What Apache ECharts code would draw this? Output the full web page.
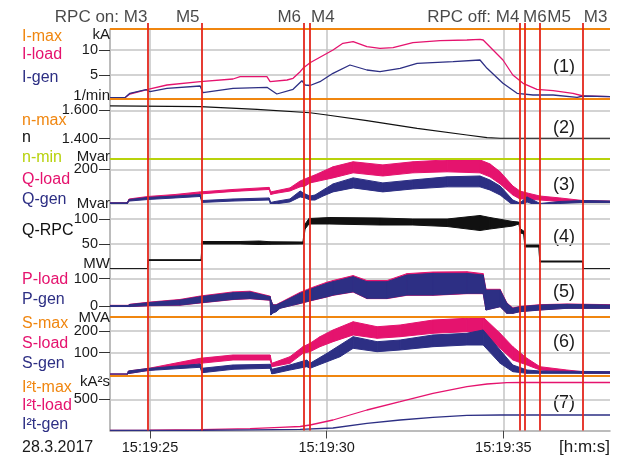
<!DOCTYPE html>
<html><head><meta charset="utf-8">
<script src="https://cdn.jsdelivr.net/npm/echarts@6/dist/echarts.min.js"></script>
<style>html,body{margin:0;padding:0;background:#fff}#c{width:617px;height:456px}</style>
</head><body><div id="c"></div>
<script>
// ---------------- DATA ----------------
// time in seconds after 15:19:00
const X_MIN = 23.868, X_MAX = 38.02;
const TIME_TICKS = [25, 30, 35];
const TIME_LABELS = ['15:19:25', '15:19:30', '15:19:35'];

const MARKER_TIMES = [24.94, 26.46, 29.34, 29.53, 35.47, 35.62, 36.02, 37.25];
const TOP_LABEL_TEXTS = ['RPC on: M3', 'M5', 'M6', 'M4', 'RPC off: M4', 'M6', 'M5', 'M3'];

const I_TICKS = [5, 10], I_TICK_LABELS = ['5', '10'];
const N_TICKS = [1400, 1600], N_TICK_LABELS = ['1.400', '1.600'];
const Q_TICKS = [200], Q_TICK_LABELS = ['200'];
const QRPC_TICKS = [50, 100], QRPC_TICK_LABELS = ['50', '100'];
const P_TICKS = [0, 100], P_TICK_LABELS = ['0', '100'];
const S_TICKS = [100, 200], S_TICK_LABELS = ['100', '200'];
const I2T_TICKS = [500], I2T_TICK_LABELS = ['500'];

const I_GRIDLINES = [5, 10], N_GRIDLINES = [1400, 1600], Q_GRIDLINES = [0, 200],
      QRPC_GRIDLINES = [0, 50, 100], P_GRIDLINES = [0, 100], S_GRIDLINES = [100, 200], I2T_GRIDLINES = [500];

const I_MAX = 14.2, N_MAX = 1680, N_MIN = 1260, S_MAX = 265, I2T_MAX = 880;

const I_LOAD = [[23.87,0.46],[24.29,0.46],[24.43,1.2],[24.94,2.14],[25.48,3.0],[26.42,3.66],[27.35,4.2],[27.55,4.66],[28.31,4.66],[28.40,3.66],[28.88,4.0],[29.05,4.34],[29.25,5.66],[29.33,6.34],[29.53,7.46],[30.18,10.0],[30.46,11.34],[30.75,11.66],[31.14,10.66],[31.51,10.34],[31.88,10.46],[32.44,11.46],[33.21,11.86],[33.97,12.0],[34.34,12.14],[34.43,12.0],[34.71,10.0],[34.99,8.0],[35.27,5.0],[35.56,3.34],[35.95,2.14],[36.41,1.86],[36.97,1.34],[37.26,0.8],[38.02,0.66]];
const I_GEN = [[23.87,0.46],[24.29,0.46],[24.43,1.34],[24.89,2.06],[25.0,1.66],[25.48,2.34],[26.42,2.8],[26.50,1.46],[27.35,2.34],[28.31,2.54],[28.59,1.2],[29.05,2.14],[29.30,3.86],[29.39,3.0],[29.53,2.9],[29.81,3.66],[30.18,5.34],[30.66,7.0],[31.14,6.0],[31.51,5.66],[32.08,6.34],[32.56,7.34],[33.58,7.66],[34.34,8.0],[34.54,6.34],[34.99,3.34],[35.39,1.34],[35.84,1.0],[36.41,1.0],[37.09,0.54],[37.26,0.8],[38.02,0.66]];

const N_SPEED = [[23.87,1631],[26.42,1626],[28.03,1607],[29.53,1583],[30.01,1567],[31.14,1527],[32.56,1473],[33.97,1426],[34.54,1407],[34.91,1403],[38.02,1403]];

// bands: [t, low, high]
const Q_LOAD = [[23.87,0,7],[24.35,0,7],[24.41,20,29],[24.94,32,43.5],[25.71,43.5,55],[26.42,58,70],[27.35,72.5,84],[28.37,84,96],[28.42,55,70],[28.54,61,75],[28.96,75,93],[29.25,99,133],[29.39,104,145],[29.53,122,157],[29.67,128,168],[30.18,151,215],[30.75,180,244],[31.59,162,226],[32.44,180,244],[33.41,186,255],[34.34,180,255],[34.62,157,232],[34.91,116,186],[35.27,52,104],[35.47,29,75],[35.67,29,64],[36.04,23,46],[36.60,14.5,35],[37.25,9,20],[38.02,9,17]];
const Q_GEN = [[23.87,0,7],[24.35,0,7],[24.41,17,26],[24.94,26,38],[25.71,35,46],[26.42,43.5,55],[26.47,9,20],[27.35,17,29],[28.37,23,35],[28.42,-6,9],[28.54,0,14.5],[28.96,12,29],[29.25,41,75],[29.39,35,58],[29.53,23,46],[29.67,23,52],[29.90,46,81],[30.18,70,116],[30.75,93,151],[31.59,70,122],[32.44,87,139],[33.41,99,157],[34.34,99,162],[34.62,81,139],[34.91,52,104],[35.27,-6,23],[35.47,-17,6],[35.67,12,41],[36.04,-14.5,3],[36.60,3,14.5],[37.25,9,20],[38.02,9,17]];

const Q_RPC = [[23.87,0,0.6],[24.93,0,0.6],[24.95,17,18.6],[26.45,17,18.6],[26.47,50,55],[27.55,50,55],[28.10,49,56],[28.40,49.5,54.5],[29.33,50,54],[29.39,80,90],[29.50,90,101],[30.09,90,103],[31.51,88,102],[32.44,88,100],[33.41,85,100],[34.34,77,107],[34.62,80,103],[35.27,86,95],[35.44,90,94],[35.49,72,80],[35.58,70,76],[35.61,44,48],[36.01,44,48],[36.03,14,16],[37.24,14,16],[37.26,0,0.6],[38.02,0,0.6]];

const P_LOAD = [[23.87,-1.8,2.5],[24.38,-1.8,2.5],[24.43,-2,6.5],[25.0,1,14.5],[25.85,3,24],[26.42,11,36.5],[27.35,23.5,51.5],[27.83,26.5,54],[28.40,21,36],[28.42,-30,23],[28.48,-24,5],[28.57,-19.5,5],[28.68,-7.5,12],[29.25,9,50],[29.61,21,68.5],[30.01,33,87],[30.18,39,93],[30.75,51,111],[31.14,27,93],[31.71,27,93],[32.27,39,118],[33.01,39,124],[33.97,45,125],[34.43,45,118],[34.51,-14,61],[34.91,-2,61],[35.10,-26,11.5],[35.27,-26,-7],[35.47,-20,-1.5],[36.04,-14,5],[36.80,-8,7.5],[38.02,-8,5]];
const P_GEN = [[23.87,-1.8,1.8],[24.38,-1.8,1.8],[24.43,-1.8,5.5],[25.0,1.8,12.8],[25.85,3.6,21.9],[26.42,12,33.9],[27.35,24.4,48.5],[27.83,27.3,51],[28.40,21.9,33.9],[28.42,-32.8,21.9],[28.48,-25.5,3.6],[28.57,-20.8,3.6],[28.68,-8.4,9.8],[29.25,9.8,46.3],[29.61,21.9,64.5],[30.01,33.9,82.8],[30.18,40.1,88.6],[30.75,52.1,106.8],[31.14,28.1,88.6],[31.71,28.1,88.6],[32.27,40.1,113],[33.01,40.1,119],[33.97,46.3,119],[34.43,46.3,113],[34.51,-14.6,58.3],[34.91,-2.6,58.3],[35.10,-26.6,9.8],[35.27,-26.6,-8.4],[35.47,-20.8,-2.6],[36.04,-14.6,3.6],[36.80,-8.4,6.2],[38.02,-8.4,3.6]];

const S_LOAD = [[23.87,0,2],[24.36,0,2],[24.39,4,15.7],[24.94,18,27.2],[26.42,51.2,74.3],[27.35,66.5,89.6],[28.40,66.5,89.6],[28.45,35.5,51.2],[28.96,51.2,81.7],[29.33,97.4,127.9],[29.53,104.8,143.6],[29.81,127.9,174],[30.18,151,205],[30.75,182,243],[31.43,166.7,220],[32.08,174,228],[33.01,189.8,251],[33.97,197,259],[34.43,189.8,264],[34.91,120.5,189.8],[35.27,66.5,127.9],[35.67,43.4,74.3],[36.04,20.3,35.5],[36.80,11.1,20.3],[37.25,5,12.5],[38.02,5,12.5]];
const S_GEN = [[23.87,0,2],[24.36,0,2],[24.39,4,15.7],[24.94,18,27.2],[26.42,32.8,48],[26.47,7.8,28.2],[27.35,23.5,43.4],[28.40,28.2,46.6],[28.45,2,23.5],[28.96,20.3,43.4],[29.44,35.5,66.5],[29.53,28.2,51.2],[30.01,58.6,97.4],[30.38,81.7,135.7],[30.75,120.5,174],[31.43,104.8,151],[32.08,112.7,158.8],[33.01,127.9,182],[33.97,135.7,189.8],[34.43,135.7,205],[34.91,51.2,112.7],[35.27,12.5,43.4],[35.67,5,20.3],[36.04,5,15.7],[38.02,5,12.5]];

const I2T_LOAD = [[23.87,0],[25.0,5],[26.42,14],[27.83,30],[28.68,50],[29.25,64],[29.53,88],[30.18,168],[31.14,328],[32.08,461],[33.01,595],[33.97,701],[34.54,744],[35.10,765],[35.5,768],[38.02,768]];
const I2T_GEN = [[23.87,0],[26.42,4],[27.83,10],[29.25,19],[30.18,40],[31.14,115],[32.08,168],[33.01,211],[33.97,243],[34.91,248],[38.02,248]];

const LEGEND_TEXTS = ['I-max','I-load','I-gen','n-max','n','n-min','Q-load','Q-gen','Q-RPC','P-load','P-gen','S-max','S-load','S-gen','I²t-max','I²t-load','I²t-gen'];
const UNIT_TEXTS = ['kA','1/min','Mvar','Mvar','MW','MVA','kA²s'];
const PANEL_TEXTS = ['(1)','(2)','(3)','(4)','(5)','(6)','(7)'];
const DATE_TEXT = '28.3.2017', TIME_UNIT_TEXT = '[h:m:s]';

// ---------------- STYLE / LAYOUT ----------------
const PINK = '#e5136e', NAVY = '#2d2f84', ORANGE = '#f0860f', GREEN = '#b8d20c', RED = '#e4261c', BLACK = '#111', GRIDC = '#c4c4c4', AXISC = '#a6a6a6';
const TXT = '#1a1a1a';
const SANS = "'Liberation Sans',Arial,sans-serif";

const LAYOUT = [
  {top:29, height:71, min:0, max:14.2, ticks:I_TICKS, labels:I_TICK_LABELS, grid:I_GRIDLINES},
  {top:99, height:59.5, min:1260, max:1680, ticks:N_TICKS, labels:N_TICK_LABELS, grid:N_GRIDLINES},
  {top:158.5, height:45.5, min:0, max:263, ticks:Q_TICKS, labels:Q_TICK_LABELS, grid:Q_GRIDLINES},
  {top:204, height:65, min:0, max:130, ticks:QRPC_TICKS, labels:QRPC_TICK_LABELS, grid:QRPC_GRIDLINES},
  {top:269, height:48, min:-40, max:135, ticks:P_TICKS, labels:P_TICK_LABELS, grid:P_GRIDLINES},
  {top:317, height:57.4, min:0, max:265, ticks:S_TICKS, labels:S_TICK_LABELS, grid:S_GRIDLINES},
  {top:375.5, height:55, min:0, max:880, ticks:I2T_TICKS, labels:I2T_TICK_LABELS, grid:I2T_GRIDLINES}
];
const LEGEND_COLORS = [ORANGE,PINK,NAVY,ORANGE,BLACK,GREEN,PINK,NAVY,BLACK,PINK,NAVY,ORANGE,PINK,NAVY,ORANGE,PINK,NAVY];
const LEGEND_Y = [37,55,78,121,138,157.5,180,200,231,280,300,323.3,343.3,363.3,387.3,405.7,425];
const UNIT_Y = [34.5,95.5,157,204,264,318,381.7];
const PANEL_Y = [66.7,128,185,236.7,291.7,342.5,403];
const TOP_SIDES = ['left','left','left','right','left','right','right','right'];
const TOP_DIST = [0,1.5,1.8,0.5,0,-2.6,7.4,0.5];

const grids = LAYOUT.map(l => ({left:110, width:500, top:l.top, height:l.height, outerBoundsMode:'none'}));
grids.push({left:110, width:500, top:29, height:401.5, outerBoundsMode:'none'});
grids.push({left:110, width:500, top:23, height:407.5, outerBoundsMode:'none'});
grids.push({left:110, width:500, top:6, height:22, outerBoundsMode:'none'});

const xAxes = grids.map((g, i) => {
  const base = {type:'value', gridIndex:i, min:X_MIN, max:X_MAX, splitLine:{show:false}};
  if (i !== 6) return Object.assign(base, {show:false});
  return Object.assign(base, {
    show:true,
    axisLine:{show:true, lineStyle:{color:AXISC, width:1.5}},
    axisTick:{show:true, customValues:TIME_TICKS, length:8, lineStyle:{color:'#444', width:1}},
    axisLabel:{show:true, customValues:TIME_TICKS, margin:10, color:TXT, fontSize:14.5, fontFamily:SANS,
      formatter: v => TIME_LABELS[TIME_TICKS.indexOf(v)] || ''}
  });
});
const yAxes = grids.map((g, i) => {
  if (i >= 7) return {type:'value', gridIndex:i, min:0, max:1, show:false};
  const l = LAYOUT[i];
  return {
    type:'value', gridIndex:i, min:l.min, max:l.max,
    axisLine:{show:true, lineStyle:{color:AXISC, width:1.5}},
    axisTick:{show:true, customValues:l.ticks, length:11, lineStyle:{color:'#333', width:1}},
    axisLabel:{show:true, customValues:l.ticks, margin:12, color:TXT, fontSize:14.5, fontFamily:SANS,
      formatter: v => { const k = l.ticks.indexOf(v); return k >= 0 ? l.labels[k] : ''; }},
    splitLine:{show:false}
  };
});

const series = [];
function helper(gi, yVal, markData, z) {
  series.push({type:'line', xAxisIndex:gi, yAxisIndex:gi, data:[[X_MIN, yVal]], symbol:'none',
    lineStyle:{width:0}, silent:true, z:z,
    markLine:{silent:true, symbol:['none','none'], z:z, animation:false, label:{show:false},
      emphasis:{disabled:true}, data:markData}});
}
function line(gi, data, color, width) {
  series.push({type:'line', xAxisIndex:gi, yAxisIndex:gi, data:data, symbol:'none',
    lineStyle:{color:color, width:width}, silent:true, z:2});
}
// noisy band drawn as polygon segments between the read lower and upper envelopes
function band(gi, data, color) {
  const segs = [];
  for (let k = 0; k < data.length - 1; k++) {
    segs.push([data[k][0], data[k][1], data[k][2], data[k + 1][0], data[k + 1][1], data[k + 1][2]]);
  }
  series.push({type:'custom', xAxisIndex:gi, yAxisIndex:gi, data:segs, clip:true, silent:true, z:2,
    encode:{x:[0, 3], y:[1, 2, 4, 5]},
    renderItem:(params, api) => {
      const a = api.coord([api.value(0), api.value(1)]);
      const b = api.coord([api.value(3), api.value(4)]);
      const c = api.coord([api.value(3), api.value(5)]);
      const d = api.coord([api.value(0), api.value(2)]);
      return {type:'polygon', shape:{points:[a, b, c, d]}, style:{fill:color, stroke:color, lineWidth:1}};
    }});
}
const hl = (v, c, w) => ({yAxis:v, lineStyle:{color:c, width:w, type:'solid'}});
const vl = (v, c, w) => ({xAxis:v, lineStyle:{color:c, width:w, type:'solid'}});

// gray grid lines
LAYOUT.forEach((l, i) => helper(i, l.min, l.grid.map(v => hl(v, GRIDC, 1.5)), 1));
helper(7, 0, TIME_TICKS.map(v => vl(v, GRIDC, 1.5)), 1);

// data
line(0, I_LOAD, PINK, 1.3);
line(0, I_GEN, NAVY, 1.3);
line(1, N_SPEED, BLACK, 1.2);
band(2, Q_LOAD, PINK);
band(2, Q_GEN, NAVY);
band(3, Q_RPC, BLACK);
band(4, P_LOAD, PINK);
band(4, P_GEN, NAVY);
band(5, S_LOAD, PINK);
band(5, S_GEN, NAVY);
line(6, I2T_LOAD, PINK, 1.3);
line(6, I2T_GEN, NAVY, 1.3);

// limit lines
helper(0, 0, [hl(I_MAX, ORANGE, 2)], 4);
helper(1, N_MIN, [hl(N_MAX, ORANGE, 2), hl(N_MIN, GREEN, 2)], 4);
helper(5, 0, [hl(S_MAX, ORANGE, 2)], 4);
helper(6, 0, [hl(I2T_MAX, ORANGE, 2)], 4);

// red marker lines
helper(8, 0, MARKER_TIMES.map(t => vl(t, RED, 1.8)), 6);

// top marker labels
series.push({type:'scatter', xAxisIndex:9, yAxisIndex:9, symbolSize:1, itemStyle:{color:'rgba(0,0,0,0)'}, silent:true, z:6,
  data: TOP_LABEL_TEXTS.map((txt, k) => ({value:[MARKER_TIMES[k], 0.5],
    label:{show:true, formatter:txt, position:TOP_SIDES[k], distance:TOP_DIST[k], color:TXT, fontSize:17, fontFamily:SANS}}))});

// graphic texts
const graphics = [];
LEGEND_TEXTS.forEach((t, k) => graphics.push({type:'text', x:22, y:LEGEND_Y[k], silent:true,
  style:{text:t, fill:LEGEND_COLORS[k], font:'16px ' + SANS, align:'left', verticalAlign:'middle'}}));
UNIT_TEXTS.forEach((t, k) => graphics.push({type:'text', x:110, y:UNIT_Y[k], silent:true, z:10,
  style:{text:t, fill:TXT, font:'15px ' + SANS, align:'right', verticalAlign:'middle'}}));
PANEL_TEXTS.forEach((t, k) => graphics.push({type:'text', x:564, y:PANEL_Y[k], silent:true,
  style:{text:t, fill:TXT, font:'18px ' + SANS, align:'center', verticalAlign:'middle'}}));
graphics.push({type:'text', x:22, y:447.5, silent:true, style:{text:DATE_TEXT, fill:TXT, font:'16px ' + SANS, align:'left', verticalAlign:'middle'}});
graphics.push({type:'text', x:610, y:447, silent:true, style:{text:TIME_UNIT_TEXT, fill:TXT, font:'17px ' + SANS, align:'right', verticalAlign:'middle'}});

const chart = echarts.init(document.getElementById('c'));
chart.setOption({animation:false, backgroundColor:'#fff', grid:grids, xAxis:xAxes, yAxis:yAxes, series:series, graphic:graphics});
</script></body></html>
